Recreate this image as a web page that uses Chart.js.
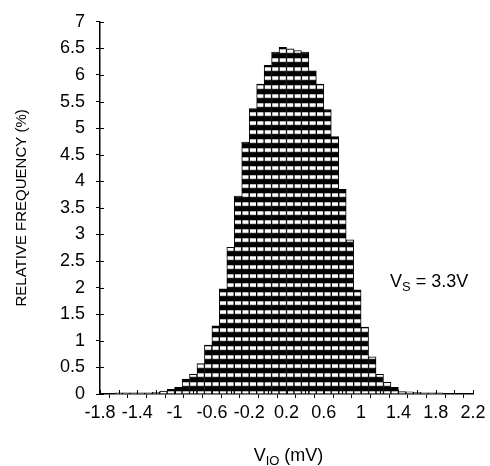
<!DOCTYPE html>
<html>
<head>
<meta charset="utf-8">
<script src="https://cdn.jsdelivr.net/npm/chart.js@4.4.0/dist/chart.umd.min.js"></script>
<style>
  html, body { margin: 0; padding: 0; background: #fff; }
  #wrap { width: 490px; height: 466px; }
</style>
</head>
<body>
<div id="wrap"><canvas id="vioChart" width="490" height="466"></canvas></div>
<script>
// histogram bins (mV) and relative frequency (%)
const binCenters = [
  -1.60, -1.52, -1.44, -1.36, -1.28, -1.20, -1.12, -1.04, -0.96, -0.88,
  -0.80, -0.72, -0.64, -0.56, -0.48, -0.40, -0.32, -0.24, -0.16, -0.08,
   0.00,  0.08,  0.16,  0.24,  0.32,  0.40,  0.48,  0.56,  0.64,  0.72,
   0.80,  0.88,  0.96,  1.04,  1.12,  1.20,  1.28,  1.36,  1.44,  1.52,
   1.60,  1.68,  1.76,  1.84
];
const relFreq = [
  0.02, 0.02, 0.02, 0.02, 0.02, 0.03, 0.056, 0.09, 0.125, 0.28,
  0.37, 0.57, 0.92, 1.28, 1.98, 2.76, 3.72, 4.74, 5.37, 5.83,
  6.18, 6.43, 6.52, 6.49, 6.46, 6.43, 6.08, 5.83, 5.35, 4.84,
  3.85, 2.90, 1.96, 1.26, 0.70, 0.37, 0.22, 0.125, 0.045, 0.04,
  0.03, 0.02, 0.02, 0.02
];
const xLabelTicks = [-1.8, -1.4, -1, -0.6, -0.2, 0.2, 0.6, 1, 1.4, 1.8, 2.2];

const FONT = 'Liberation Sans, Arial, sans-serif';

let stripeCache = null;
function stripes(chart) {
  const bottom = chart.chartArea ? chart.chartArea.bottom : 394;
  if (stripeCache && stripeCache.bottom === bottom) return stripeCache.pattern;
  const tile = document.createElement('canvas');
  tile.width = 8;
  tile.height = 9;
  const t = tile.getContext('2d');
  t.fillStyle = '#000';
  t.fillRect(0, 0, 8, 9);
  t.fillStyle = '#8a8a8a';
  t.fillRect(0, 2, 8, 4.2);
  t.fillStyle = '#fff';
  t.fillRect(0, 2.6, 8, 3);
  const pattern = chart.ctx.createPattern(tile, 'repeat');
  pattern.setTransform(new DOMMatrix().translate(0, bottom - 5));
  stripeCache = { bottom, pattern };
  return pattern;
}

// inner tick halves, x title with subscript, V_S note
const extras = {
  id: 'extras',
  afterDraw(chart) {
    const { ctx, chartArea: area, scales: { x, y } } = chart;
    ctx.save();
    ctx.strokeStyle = '#000';
    ctx.lineWidth = 1;
    ctx.beginPath();
    x.ticks.forEach(t => {
      const px = Math.round(x.getPixelForValue(t.value)) + 0.5;
      ctx.moveTo(px, area.bottom);
      ctx.lineTo(px, area.bottom - 4);
    });
    y.ticks.forEach(t => {
      const py = Math.round(y.getPixelForValue(t.value)) + 0.5;
      ctx.moveTo(area.left, py);
      ctx.lineTo(area.left + 4, py);
    });
    ctx.stroke();

    ctx.fillStyle = '#000';
    ctx.textBaseline = 'alphabetic';
    ctx.textAlign = 'left';

    // x axis title: V_IO (mV)
    const big = '18px ' + FONT, small = '13px ' + FONT;
    ctx.font = big;
    const wV = ctx.measureText('V').width;
    const wRest = ctx.measureText(' (mV)').width;
    ctx.font = small;
    const wSub = ctx.measureText('IO').width;
    let tx = (area.left + area.right) / 2 + 2 - (wV + wSub + wRest) / 2;
    const ty = 461;
    ctx.font = big;
    ctx.fillText('V', tx, ty);
    tx += wV;
    ctx.font = small;
    ctx.fillText('IO', tx, ty + 4);
    tx += wSub;
    ctx.font = big;
    ctx.fillText(' (mV)', tx, ty);

    // supply note
    let nx = 390;
    const ny = 287;
    ctx.font = big;
    ctx.fillText('V', nx, ny);
    nx += ctx.measureText('V').width;
    ctx.font = small;
    ctx.fillText('S', nx, ny + 4);
    nx += ctx.measureText('S').width;
    ctx.font = big;
    ctx.fillText(' = 3.3V', nx, ny);
    ctx.restore();
  }
};

new Chart(document.getElementById('vioChart').getContext('2d'), {
  type: 'bar',
  data: {
    datasets: [{
      data: binCenters.map((c, i) => ({ x: c, y: relFreq[i] })),
      backgroundColor: ctx => stripes(ctx.chart),
      borderColor: '#000',
      borderWidth: 1,
      barPercentage: 1,
      categoryPercentage: 1
    }]
  },
  options: {
    responsive: false,
    animation: false,
    devicePixelRatio: 1,
    layout: { padding: { left: 0, right: 17, top: 20, bottom: 0 } },
    plugins: {
      legend: { display: false },
      tooltip: { enabled: false }
    },
    scales: {
      x: {
        type: 'linear',
        min: -1.8,
        max: 2.2,
        offset: false,
        grid: { drawOnChartArea: false, drawTicks: true, tickLength: 4, color: '#000', tickColor: '#000' },
        border: { display: true, color: '#000', width: 1.5 },
        ticks: {
          stepSize: 0.2,
          autoSkip: false,
          maxRotation: 0,
          padding: 4,
          color: '#000',
          font: { family: FONT, size: 18 },
          callback: v => xLabelTicks.some(l => Math.abs(l - v) < 1e-6) ? String(v) : ''
        },
        afterFit: s => { s.height = 72; }
      },
      y: {
        min: 0,
        max: 7,
        grid: { drawOnChartArea: false, drawTicks: true, tickLength: 4, color: '#000', tickColor: '#000' },
        border: { display: true, color: '#000', width: 1.5 },
        ticks: {
          stepSize: 0.5,
          padding: 11,
          color: '#000',
          font: { family: FONT, size: 18 },
          callback: v => String(Math.round(v * 10) / 10)
        },
        title: {
          display: true,
          text: 'RELATIVE FREQUENCY (%)',
          color: '#000',
          font: { family: FONT, size: 15 },
          padding: { top: 13, bottom: 0 }
        },
        afterFit: s => { s.width = 100; }
      }
    }
  },
  plugins: [extras]
});
</script>
</body>
</html>
